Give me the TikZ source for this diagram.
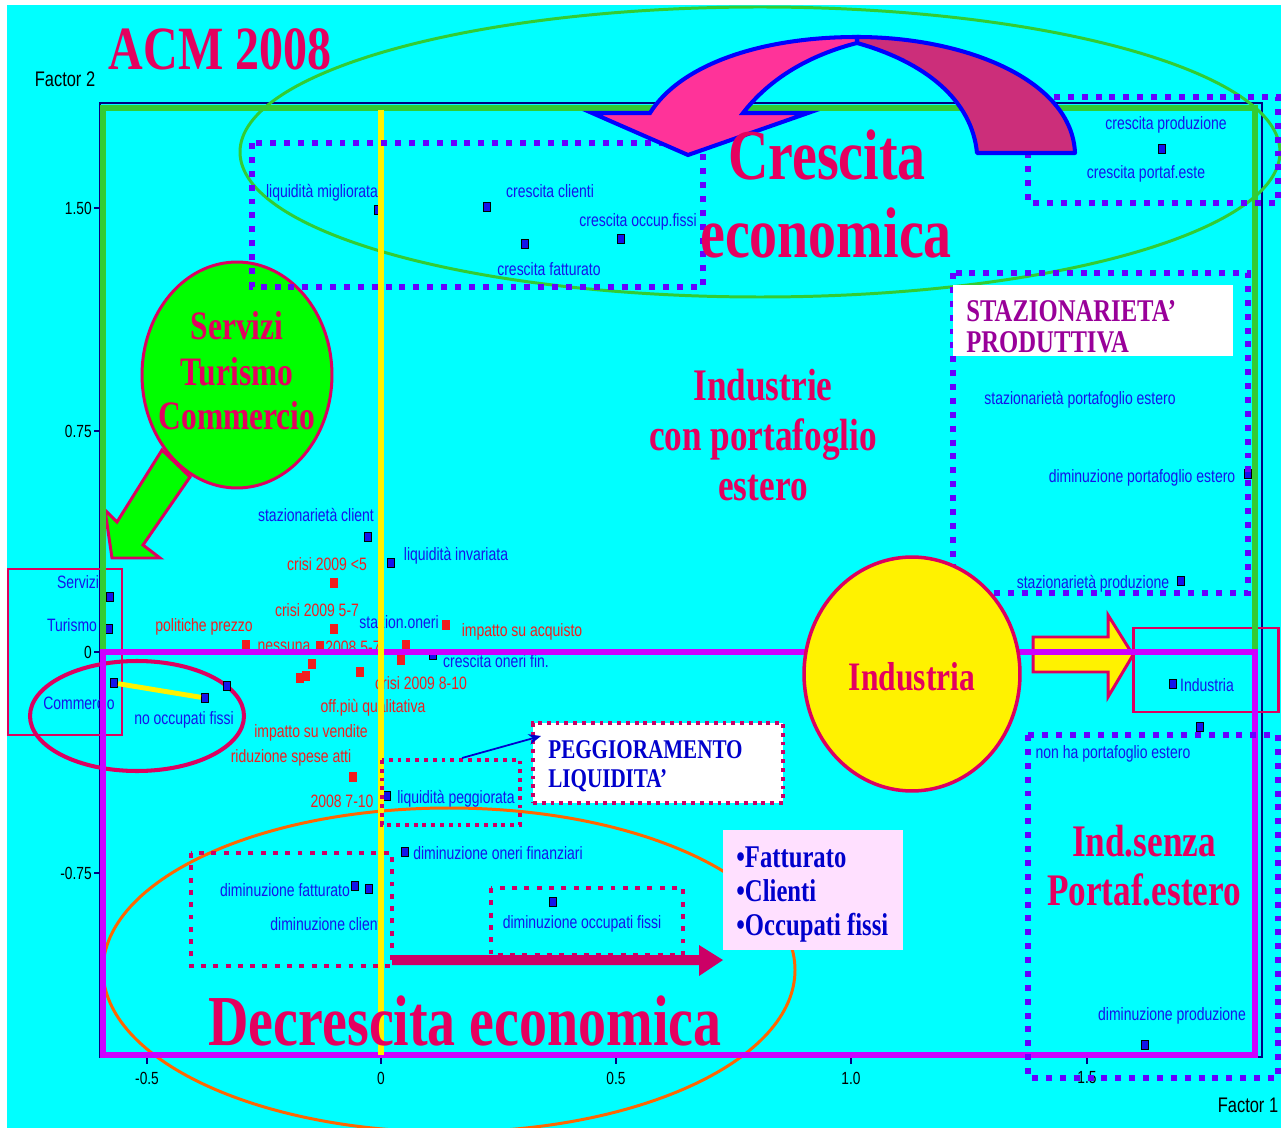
\documentclass[tikz,border=0pt]{standalone}
\usepackage{fontspec}
\setmainfont[FakeStretch=0.78]{Liberation Serif}
\newfontfamily\lblfont[FakeStretch=0.78]{Liberation Sans}
\usetikzlibrary{positioning,arrows.meta,shapes.geometric}

\definecolor{cyanbg}{RGB}{0,255,255}
\definecolor{ptblue}{RGB}{20,20,235}
\definecolor{ptred}{RGB}{240,30,30}
\definecolor{titred}{RGB}{228,0,95}
\definecolor{crim}{RGB}{220,0,96}
\definecolor{grline}{RGB}{51,204,51}
\definecolor{magline}{RGB}{204,0,255}
\definecolor{dotviolet}{RGB}{102,0,255}
\definecolor{dotmag}{RGB}{204,0,102}
\definecolor{orline}{RGB}{255,102,0}
\definecolor{arrpink}{RGB}{255,51,153}
\definecolor{arrdark}{RGB}{204,46,122}
\definecolor{arrblue}{RGB}{0,0,255}
\definecolor{purtxt}{RGB}{153,0,153}
\definecolor{dkblue}{RGB}{0,0,204}
\definecolor{pinkbox}{RGB}{255,224,255}
\definecolor{lime}{RGB}{0,255,0}
\definecolor{navy}{RGB}{0,0,128}

\begin{document}
\begin{tikzpicture}[x=0.02cm, y=-0.02cm,
  lbl/.style={font=\lblfont\fontsize{10.2}{12}\selectfont, text=ptblue, inner sep=0pt, anchor=base},
  rlbl/.style={lbl, text=ptred},
  tck/.style={font=\lblfont\fontsize{10}{12}\selectfont, text=black, inner sep=0pt},
  bpt/.style={draw=black, fill=ptblue, line width=0.5pt, inner sep=0pt, minimum width=4.2pt, minimum height=4.8pt},
  rpt/.style={fill=ptred, inner sep=0pt, minimum width=5pt, minimum height=5.2pt},
  big/.style={font=\bfseries\fontsize{40.8}{44}\selectfont, text=titred, inner sep=0pt, anchor=base},
  mid/.style={font=\bfseries\fontsize{25.7}{28}\selectfont, text=titred, inner sep=0pt, anchor=base},
  sml/.style={font=\bfseries\fontsize{23}{26}\selectfont, text=titred, inner sep=0pt, anchor=base},
  boxtxt/.style={font=\bfseries\fontsize{15.4}{18}\selectfont, inner sep=0pt, anchor=base west},
  pdot/.style={draw=dotviolet, line width=3.4pt, dash pattern=on 3.4pt off 4.5pt},
  mdot/.style={draw=dotmag, line width=2.8pt, dash pattern=on 2.8pt off 4.2pt},
  mdotsm/.style={draw=dotmag, line width=2.2pt, dash pattern=on 2.2pt off 2.8pt}]

\useasboundingbox (0,0) rectangle (1281,1128);
\fill[white] (0,0) rectangle (1281,1128);
\fill[cyanbg] (7,5) rectangle (1281,1128);

\draw[navy, line width=0.8pt] (100,103) rectangle (1262,1057);
\foreach \yy/\tl in {208/1.50, 431/0.75, 652/0, 873/-0.75} {
  \draw[navy, line width=0.6pt] (94,\yy) -- (100,\yy);
  \node[tck, anchor=east] at (92,\yy) {\tl};
}
\foreach \xx/\tl in {147/-0.5, 381/0, 616/0.5, 851/1.0, 1087/1.5} {
  \draw[navy, line width=0.6pt] (\xx,1057) -- (\xx,1064);
  \node[tck] at (\xx,1078) {\tl};
}
\node[tck, font=\lblfont\fontsize{12}{14}\selectfont] (f2) at (65,79) {Factor 2};
\node[tck, font=\lblfont\fontsize{12}{14}\selectfont] (f1) at (1248,1105) {Factor 1};

\draw[grline, line width=1.7pt] (760,152) ellipse [x radius=520, y radius=145];
\draw[orline, line width=1.7pt] (449,970) ellipse [x radius=346, y radius=162];

\draw[crim, line width=1.7pt] (8,569) rectangle (122,735);
\draw[crim, line width=1.7pt] (1133,628) rectangle (1278,712);

\filldraw[fill=yellow, draw=crim, line width=1.7pt] (1033,637) -- (1108,637) -- (1108,615) -- (1133,655) -- (1108,697) -- (1108,672) -- (1033,672) -- cycle;
\filldraw[fill=lime, draw=crim, line width=1.7pt] (162,450) -- (190,477) -- (143,545) -- (160,558) -- (112,558) -- (105,510) -- (117,522) -- cycle;
\node[ellipse, fill=lime, draw=crim, line width=1.7pt, minimum width=3.8cm, minimum height=4.52cm] (srv) at (237,375) {};
\node[sml] (srv1) at (237,340) {Servizi};
\node[sml] (srv2) at (237,385) {Turismo};
\node[sml] (srv3) at (237,429) {Commercio};
\draw[crim, line width=2.3pt] (137,716) ellipse [x radius=107, y radius=55];

\node[lbl] (l1) at (322,198) {liquidità migliorata};
\node[lbl] (l2) at (550,198) {crescita clienti};
\node[lbl] (l3) at (638,227) {crescita occup.fissi};
\node[lbl] (l4) at (549,276) {crescita fatturato};
\node[lbl] (l5) at (1166,130) {crescita produzione};
\node[lbl] (l6) at (1146,179) {crescita portaf.este};
\node[lbl] (l7) at (1080,404) {stazionarietà portafoglio estero};
\node[lbl] (l8) at (1142,482) {diminuzione portafoglio estero};
\node[lbl] (l9) at (1093,588) {stazionarietà produzione};
\node[lbl] (l10) at (316,521) {stazionarietà client};
\node[lbl] (l11) at (456,560) {liquidità invariata};
\node[lbl] (l12) at (399,628) {stazion.oneri};
\node[lbl] (l13) at (496,667) {crescita oneri fin.};
\node[lbl] (l14) at (1207,691) {Industria};
\node[lbl] (l15) at (1113,758) {non ha portafoglio estero};
\node[lbl] (l16) at (1172,1020) {diminuzione produzione};
\node[lbl] (l17) at (78,588) {Servizi};
\node[lbl] (l18) at (72,631) {Turismo};
\node[lbl] (l19) at (79,709) {Commercio};
\node[lbl] (l20) at (184,724) {no occupati fissi};
\node[lbl] (l21) at (456,803) {liquidità peggiorata};
\node[lbl] (l22) at (498,859) {diminuzione oneri finanziari};
\node[lbl] (l23) at (285,896) {diminuzione fatturato};
\node[lbl] (l24) at (326,930) {diminuzione client};
\node[lbl] (l25) at (582,928) {diminuzione occupati fissi};

\node[rlbl] (r1) at (327,570) {crisi 2009 <5};
\node[rlbl] (r2) at (317,616) {crisi 2009 5-7};
\node[rlbl] (r3) at (204,631) {politiche prezzo};
\node[rlbl] (r4) at (284,651) {nessuna};
\node[rlbl] (r5) at (353,653) {2008 5-7};
\node[rlbl] (r6) at (522,636) {impatto su acquisto};
\node[rlbl] (r7) at (421,689) {crisi 2009 8-10};
\node[rlbl] (r8) at (373,712) {off.più qualitativa};
\node[rlbl] (r9) at (311,737) {impatto su vendite};
\node[rlbl] (r10) at (291,762) {riduzione spese atti};
\node[rlbl] (r11) at (342,807) {2008 7-10};

\foreach \px/\py [count=\i] in {378/210, 487/207, 621/239, 525/244, 1162/149, 1248/474, 1181/581, 368/537, 391/563, 433/655, 1173/684, 1200/727, 1145/1045, 110/597, 109/629, 387/796, 405/852, 355/886, 369/889, 553/902, 227/686}
  \node[bpt] (b\i) at (\px,\py) {};
\node[bpt] (pCom) at (114,683) {};
\node[bpt] (pNoOcc) at (205,698) {};
\draw[yellow, line width=2.8pt] (pCom) -- (pNoOcc);
\foreach \px/\py [count=\i] in {334/583, 334/629, 246/645, 320/646, 446/625, 406/645, 312/664, 300/678, 306/676, 360/672, 401/660, 353/777}
  \node[rpt] (q\i) at (\px,\py) {};

\draw[grline, line width=3.4pt] (103,652) -- (103,108) -- (1255,108) -- (1255,652);
\draw[magline, line width=3.4pt] (103,652) rectangle (1255,1055);
\draw[yellow, line width=3.4pt] (381,110) -- (381,1055);

\draw[pdot] (252,143) rectangle (703,287);
\draw[pdot] (1028,97) rectangle (1278,203);
\draw[pdot] (953,273) rectangle (1248,593);
\draw[pdot] (1028,735) rectangle (1278,1078);

\fill[white] (953,285) rectangle (1233,356);
\node[boxtxt, font=\bfseries\fontsize{18}{20}\selectfont, text=purtxt] (st1) at (966,322) {STAZIONARIETA’};
\node[boxtxt, font=\bfseries\fontsize{18}{20}\selectfont, text=purtxt] (st2) at (966,353) {PRODUTTIVA};

\draw[mdotsm] (382,760) rectangle (520,825);
\draw[mdot] (191,853) rectangle (392,966);
\draw[mdot] (491,888) rectangle (683,955);
\node[mdotsm, fill=white, minimum width=5cm, minimum height=1.6cm] (peg) at (658,763) {};
\node[boxtxt, text=dkblue] (peg1) at (548,758) {PEGGIORAMENTO};
\node[boxtxt, text=dkblue] (peg2) at (548,787) {LIQUIDITA’};
\coordinate (lpstart) at (462,758);
\coordinate (pegtip) at (541,736);
\draw[-{Stealth[length=7pt,width=6pt]}, dkblue, line width=1pt] (lpstart) -- (pegtip);

\node[fill=pinkbox, minimum width=3.6cm, minimum height=2.4cm] (ftbox) at (813,890) {};
\node[boxtxt, font=\bfseries\fontsize{18}{20}\selectfont, text=dkblue] (ft1) at (736,867) {•Fatturato};
\node[boxtxt, font=\bfseries\fontsize{18}{20}\selectfont, text=dkblue] (ft2) at (736,901) {•Clienti};
\node[boxtxt, font=\bfseries\fontsize{18}{20}\selectfont, text=dkblue] (ft3) at (736,935) {•Occupati fissi};

\fill[dotmag] (392,955) -- (699,955) -- (699,945) -- (723,960) -- (699,976) -- (699,965) -- (392,965) -- cycle;

\node[ellipse, fill=yellow, draw=crim, line width=2pt, minimum width=4.32cm, minimum height=4.68cm] (ind) at (912,674) {};
\node[sml] (indt) at (912,690) {Industria};

\filldraw[fill=arrdark, draw=arrblue, line width=2.3pt, line join=round] (857,37) .. controls (965,37) and (1072,80) .. (1075,153) -- (977,153) .. controls (972,100) and (925,62) .. (857,43) -- cycle;
\filldraw[fill=arrpink, draw=arrblue, line width=2.3pt] (857,37) .. controls (760,37) and (680,65) .. (650,113) -- (592,113) -- (688,155) -- (808,113) -- (743,113) .. controls (770,78) and (810,55) .. (857,43) -- cycle;

\node[big, font=\bfseries\fontsize{35}{38}\selectfont] (acm) at (220,70) {ACM 2008};
\node[big] (cr1) at (827,180) {Crescita};
\node[big] (cr2) at (826,258) {economica};
\node[big] (dec) at (465,1045) {Decrescita economica};
\node[mid] (in1) at (763,400) {Industrie};
\node[mid] (in2) at (763,450) {con portafoglio};
\node[mid] (in3) at (763,500) {estero};
\node[mid] (is1) at (1144,856) {Ind.senza};
\node[mid] (is2) at (1144,905) {Portaf.estero};

\end{tikzpicture}
\end{document}
